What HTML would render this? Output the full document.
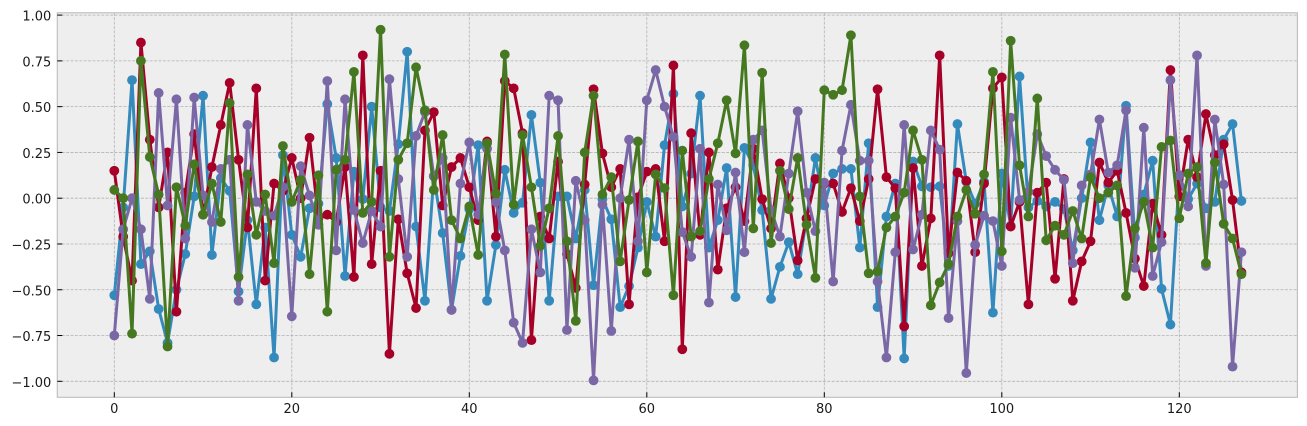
<!DOCTYPE html>
<html lang="en">
<head>
<meta charset="utf-8">
<title>Four series line chart</title>
<style>
html,body{margin:0;padding:0;background:#fff;width:1307px;height:426px;overflow:hidden}
svg{display:block}
text{font-family:"DejaVu Sans","Liberation Sans",sans-serif;font-size:13px;fill:#1a1a1a}
</style>
</head>
<body>
<svg id="chart" width="1307" height="426" viewBox="0 0 1307 426" xmlns="http://www.w3.org/2000/svg"></svg>
<script>
const xTicks = [0, 20, 40, 60, 80, 100, 120];
const yTicks = [-1, -0.75, -0.5, -0.25, 0, 0.25, 0.5, 0.75, 1];

const blueValues = [-.53,-.05,.645,-.36,-.29,-.605,-.79,-.50,-.305,.01,.56,-.31,.11,.04,-.51,-.12,-.58,-.16,-.87,.235,
-.20,-.32,-.055,-.03,.515,.22,-.425,.145,-.005,.50,-.05,-.07,.295,.80,-.155,-.56,.12,-.19,-.61,-.315,
-.06,.29,-.56,-.255,.155,-.08,-.025,.455,.085,-.56,.01,.01,-.22,.045,-.475,-.005,-.115,-.595,-.48,-.27,
-.02,-.21,.29,.57,-.045,.135,.56,-.27,-.12,.165,-.54,.275,.18,-.065,-.55,-.375,-.24,-.415,-.11,.22,
-.04,.135,.16,.16,-.27,.30,-.595,-.10,.08,-.875,.20,.065,.06,.065,-.37,.405,.09,-.03,.09,-.625,
.135,-.15,.665,-.05,-.015,-.045,-.02,-.06,-.285,0,.305,-.12,.07,-.10,.505,-.215,.02,.205,-.495,-.69,
.125,-.005,.08,-.055,-.02,.32,.405,-.015];

const redValues = [.15,-.21,-.45,.85,.32,-.05,.25,-.62,.03,.35,-.09,.17,.40,.63,.21,-.16,.60,-.45,.08,.04,
.22,0,.33,-.11,-.09,-.13,.17,-.43,.78,-.36,.15,-.85,-.115,-.41,-.60,.37,.47,-.04,.17,.22,
.06,-.12,.31,-.21,.64,.60,.355,-.775,-.10,-.22,.20,-.305,-.49,.075,.595,.245,.06,.16,-.58,.005,
.145,.16,-.235,.725,-.825,.355,-.20,.25,-.39,-.055,.06,-.125,.27,-.005,-.165,.19,0,-.34,-.11,.105,
.08,.08,-.075,.055,-.125,.105,.595,.115,.055,-.70,.165,-.37,-.11,.78,-.30,.14,.095,-.295,.08,.60,
.66,-.155,-.02,-.58,.03,.085,-.44,.105,-.56,-.345,-.235,.195,.085,.15,-.08,-.33,-.48,-.03,-.20,.70,
.01,.32,.115,.46,.235,.295,-.01,-.405];

const purpleValues = [-.75,-.17,0,-.17,-.55,.575,-.04,.54,-.22,.55,.015,-.13,.16,.21,-.56,.40,-.02,-.07,-.095,.06,
-.645,.175,.015,-.145,.64,-.285,.54,-.065,-.245,-.07,-.155,.65,.105,-.32,.34,.47,.12,.22,-.61,.08,
.305,-.09,.27,-.02,-.285,-.68,-.79,-.17,-.405,.56,.535,-.72,.095,-.12,-.995,-.035,-.725,0,.32,-.235,
.535,.70,.50,.335,-.185,-.32,.27,-.57,.075,-.175,.14,-.295,.32,.37,-.065,-.21,.135,.475,.03,-.18,
.085,-.455,.26,.51,.205,.205,-.455,-.87,-.295,.40,-.28,-.09,.37,.265,-.655,-.125,-.955,-.255,-.095,-.125,
-.37,.44,-.01,.035,.35,.23,.155,.10,-.355,.07,.13,.43,.14,.18,.48,-.38,.385,-.425,-.24,.645,
.125,-.045,.78,-.37,.43,.075,-.92,-.295];

const greenValues = [.045,0,-.74,.75,.225,.02,-.81,.06,-.15,.185,-.09,.08,-.13,.52,-.43,.13,-.20,.02,-.355,.285,
-.02,.10,-.415,.125,-.62,.155,.21,.69,-.08,-.02,.92,-.32,.21,.30,.715,.48,.045,.345,-.12,-.22,
-.045,-.31,.30,.025,.785,-.035,.345,.06,-.26,-.055,.34,-.235,-.67,.25,.56,.02,.115,-.345,-.01,.31,
-.405,.13,.055,-.53,.26,-.21,-.18,.105,.30,.535,.245,.835,-.165,.685,-.245,.15,-.06,.22,-.145,-.435,
.59,.565,.59,.89,.01,-.41,-.40,-.16,-.10,.03,.37,.21,-.585,-.46,-.36,-.10,.045,-.085,.13,.69,
-.29,.86,.18,-.10,.545,-.23,-.15,-.20,-.07,-.22,.115,0,.03,.07,-.535,-.165,-.02,-.27,.28,.315,
-.11,.135,.17,-.355,.195,-.14,-.22,-.415];

const seriesNames = ['blue', 'red', 'purple', 'green'];
const seriesValues = [blueValues, redValues, purpleValues, greenValues];
const seriesColors = ['#348ABD', '#A60028', '#7A68A6', '#467821'];

const NS = 'http://www.w3.org/2000/svg';
const svg = document.getElementById('chart');
const plot = {left: 57.3, right: 1297.4, top: 12.8, bottom: 397.3};

function xScale(v) { return 114.3 + v * 8.875; }
function yScale(v) { return 198.2 - v * 183.1; }
function make(tag, attrs, parent) {
  const el = document.createElementNS(NS, tag);
  for (const k in attrs) el.setAttribute(k, attrs[k]);
  (parent || svg).appendChild(el);
  return el;
}
function formatY(v) {
  const s = Math.abs(v).toFixed(2);
  return v < 0 ? '\u2212' + s : s;
}

const bg = make('rect', {x: plot.left, y: plot.top, width: plot.right - plot.left, height: plot.bottom - plot.top, fill: '#eeeeee'});



const gridGroup = make('g', {stroke: '#b2b2b2', 'stroke-width': 0.8, 'stroke-dasharray': '3 1.4', fill: 'none'});


xTicks.forEach(function (t) {
  const l = make('line', {x1: xScale(t), x2: xScale(t), y1: plot.top, y2: plot.bottom}, gridGroup);
  
  
});
yTicks.forEach(function (t) {
  const l = make('line', {x1: plot.left, x2: plot.right, y1: yScale(t), y2: yScale(t)}, gridGroup);
  
  
});

seriesValues.forEach(function (values, s) {
  const g = make('g', {});
  
  
  const points = values.map(function (v, i) { return xScale(i).toFixed(2) + ',' + yScale(v).toFixed(2); }).join(' ');
  const line = make('polyline', {points: points, fill: 'none', stroke: seriesColors[s], 'stroke-width': 3, 'stroke-linejoin': 'round'}, g);
  
  
  values.forEach(function (v, i) {
    const c = make('circle', {cx: xScale(i), cy: yScale(v), r: 4.9, fill: seriesColors[s]}, g);
    
    
  });
});

const frame = make('rect', {x: plot.left, y: plot.top, width: plot.right - plot.left, height: plot.bottom - plot.top, fill: 'none', stroke: '#bcbcbc', 'stroke-width': 1.1});



xTicks.forEach(function (t) {
  const tick = make('line', {x1: xScale(t), x2: xScale(t), y1: plot.bottom - 5, y2: plot.bottom, stroke: '#000', 'stroke-width': 1});
  
  
  const label = make('text', {x: xScale(t), y: 413, 'text-anchor': 'middle'});
  label.textContent = String(t);
  
  
});
yTicks.forEach(function (t) {
  const tick = make('line', {x1: plot.left, x2: plot.left + 5, y1: yScale(t), y2: yScale(t), stroke: '#000', 'stroke-width': 1});
  
  
  const label = make('text', {x: 51.3, y: yScale(t) + 5.5, 'text-anchor': 'end'});
  label.textContent = formatY(t);
  
  
});
</script>
</body>
</html>
